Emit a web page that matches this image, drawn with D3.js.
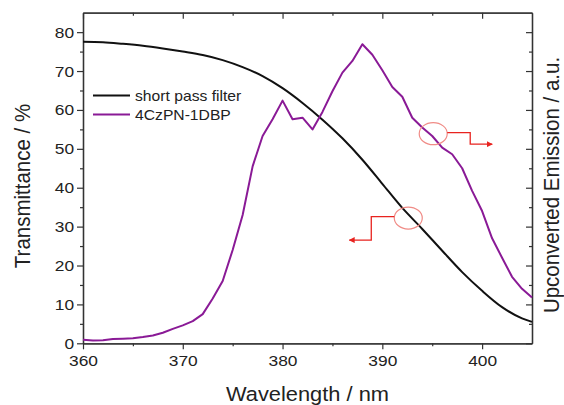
<!DOCTYPE html>
<meta charset="utf-8">
<script src="https://cdnjs.cloudflare.com/ajax/libs/d3/7.8.5/d3.min.js"></script>
<style>
  body { margin: 0; background: #fff; }
  text { font-family: "Liberation Sans", Arial, sans-serif; fill: #222; }
</style>
<div id="chart"></div>
<script>

// short pass filter transmittance (%)
var filterWl = [360, 362, 364, 366, 368, 370, 372, 374, 376, 378, 380, 382, 384, 386, 388, 390, 392, 394, 396, 398, 400, 402, 404, 405];
var filterT  = [77.5, 77.4, 77.0, 76.5, 75.8, 75.0, 74.1, 72.8, 71.0, 68.7, 65.6, 61.8, 57.5, 52.7, 47.2, 41.0, 34.8, 29.4, 23.8, 18.3, 13.5, 9.3, 6.4, 5.5];

// upconverted emission of 4CzPN-1DBP (a.u., drawn on same scale)
var emWl  = [360, 361, 362, 363, 364, 365, 366, 367, 368, 369, 370, 371, 372, 373, 374, 375, 376, 377, 378, 379, 380, 381, 382, 383, 384, 385, 386, 387, 388, 389, 390, 391, 392, 393, 394, 395, 396, 397, 398, 399, 400, 401, 402, 403, 404, 405];
var emVal = [0.9, 0.7, 0.8, 1.1, 1.2, 1.3, 1.6, 2.0, 2.7, 3.7, 4.6, 5.7, 7.5, 11.5, 16.0, 24.0, 33.0, 45.5, 53.3, 57.6, 62.4, 57.6, 58.0, 55.0, 59.5, 64.8, 69.6, 72.6, 76.9, 74.2, 70.2, 65.9, 63.4, 58.0, 55.5, 53.3, 50.3, 48.6, 45.0, 39.2, 34.0, 27.0, 22.0, 17.1, 14.0, 11.8];

var xMajor = [360, 370, 380, 390, 400];
var xMinor = [365, 375, 385, 395];
var yMajor = [0, 10, 20, 30, 40, 50, 60, 70, 80];
var yMinor = [5, 15, 25, 35, 45, 55, 65, 75];

var seriesNames = ["short pass filter", "4CzPN-1DBP"];
var seriesColors = ["#111111", "#8a1a96"];

var W = 564, H = 405;
var stretch = 1.12;   // text in the original is a bit wide

var svg = d3.select("#chart").append("svg")
    .attr("width", W)
    .attr("height", H);

var x = d3.scaleLinear().domain([360, 405]).range([83, 532]);
var y = d3.scaleLinear().domain([0, 85]).range([343.3, 12.7]);

function styleAxis(g) {
  g.select(".domain").attr("stroke", "#333").attr("stroke-width", 1.3);
  g.selectAll(".tick line").attr("stroke", "#333").attr("stroke-width", 1.2);
  g.selectAll(".tick text")
    .style("font-size", "15.5px")
    .attr("fill", "#222")
    .attr("transform", "scale(" + stretch + ",1)");
}

// bottom axis
svg.append("g")
  .attr("transform", "translate(0," + y(0) + ")")
  .call(d3.axisBottom(x).tickValues(xMajor).tickSize(6).tickPadding(6).tickSizeOuter(0))
  .call(styleAxis);
svg.append("g")
  .attr("transform", "translate(0," + y(0) + ")")
  .call(d3.axisBottom(x).tickValues(xMinor).tickSize(3).tickFormat("").tickSizeOuter(0))
  .call(styleAxis);

// top axis, inward ticks
svg.append("g")
  .attr("transform", "translate(0," + y(85) + ")")
  .call(d3.axisTop(x).tickValues(xMajor).tickSize(-6).tickFormat("").tickSizeOuter(0))
  .call(styleAxis);
svg.append("g")
  .attr("transform", "translate(0," + y(85) + ")")
  .call(d3.axisTop(x).tickValues(xMinor).tickSize(-3).tickFormat("").tickSizeOuter(0))
  .call(styleAxis);

// left axis
svg.append("g")
  .attr("transform", "translate(" + x(360) + ",0)")
  .call(d3.axisLeft(y).tickValues(yMajor).tickSize(6).tickPadding(2).tickSizeOuter(0))
  .call(styleAxis);
svg.append("g")
  .attr("transform", "translate(" + x(360) + ",0)")
  .call(d3.axisLeft(y).tickValues(yMinor).tickSize(3).tickFormat("").tickSizeOuter(0))
  .call(styleAxis);

// right axis, inward ticks, no labels
svg.append("g")
  .attr("transform", "translate(" + x(405) + ",0)")
  .call(d3.axisRight(y).tickValues(yMajor).tickSize(-6).tickFormat("").tickSizeOuter(0))
  .call(styleAxis);
svg.append("g")
  .attr("transform", "translate(" + x(405) + ",0)")
  .call(d3.axisRight(y).tickValues(yMinor).tickSize(-3).tickFormat("").tickSizeOuter(0))
  .call(styleAxis);

// curves
var filterLine = d3.line()
  .x(function(d, i) { return x(filterWl[i]); })
  .y(function(d) { return y(d); })
  .curve(d3.curveMonotoneX);

var emLine = d3.line()
  .x(function(d, i) { return x(emWl[i]); })
  .y(function(d) { return y(d); });

svg.append("path")
  .attr("d", filterLine(filterT))
  .attr("fill", "none")
  .attr("stroke", seriesColors[0])
  .attr("stroke-width", 2);

svg.append("path")
  .attr("d", emLine(emVal))
  .attr("fill", "none")
  .attr("stroke", seriesColors[1])
  .attr("stroke-width", 2)
  .attr("stroke-linejoin", "round");

// legend
var legend = svg.append("g");
seriesNames.forEach(function(name, i) {
  var ly = 95.5 + i * 19;
  legend.append("line")
    .attr("x1", 93).attr("x2", 130)
    .attr("y1", ly).attr("y2", ly)
    .attr("stroke", seriesColors[i])
    .attr("stroke-width", 2);
  legend.append("text")
    .attr("transform", "translate(135," + (ly + 5) + ") scale(" + stretch + ",1)")
    .style("font-size", "14px")
    .text(name);
});

// axis titles
svg.append("text")
  .attr("transform", "translate(" + ((x(360) + x(405)) / 2) + ",400.5) scale(" + stretch + ",1)")
  .attr("text-anchor", "middle")
  .style("font-size", "19.5px")
  .text("Wavelength / nm");

svg.append("text")
  .attr("transform", "translate(30,186) rotate(-90) scale(1," + stretch + ")")
  .attr("text-anchor", "middle")
  .style("font-size", "20.5px")
  .text("Transmittance / %");

svg.append("text")
  .attr("transform", "translate(558.5,185) rotate(-90) scale(1," + stretch + ")")
  .attr("text-anchor", "middle")
  .style("font-size", "20.5px")
  .text("Upconverted Emission / a.u.");

// annotation arrows pointing to the matching axes
svg.append("defs").append("marker")
    .attr("id", "arrow")
    .attr("viewBox", "0 0 10 10")
    .attr("refX", 9).attr("refY", 5)
    .attr("markerWidth", 6).attr("markerHeight", 6)
    .attr("markerUnits", "userSpaceOnUse")
    .attr("orient", "auto")
  .append("path")
    .attr("d", "M0,0 L10,5 L0,10 z")
    .attr("fill", "#e8231f");

function annotate(wl, val, dir) {
  var cx = x(wl), cy = y(val);
  svg.append("ellipse")
    .attr("cx", cx).attr("cy", cy)
    .attr("rx", 14).attr("ry", 11)
    .attr("fill", "none")
    .attr("stroke", "#f08b86")
    .attr("stroke-width", 1.2);
  var x0 = cx + dir * 14;
  var x1 = x0 + dir * 23;
  var y1 = cy + (dir > 0 ? 10.5 : 22);
  var yStart = cy + (dir > 0 ? -1 : -1.5);
  svg.append("path")
    .attr("d", "M" + x0 + "," + yStart + " H" + x1 + " V" + y1 + " H" + (x1 + dir * 22))
    .attr("fill", "none")
    .attr("stroke", "#e8231f")
    .attr("stroke-width", 1.3)
    .attr("marker-end", "url(#arrow)");
}
annotate(395.1, 53.9, 1);
annotate(392.6, 32.2, -1);

</script>
